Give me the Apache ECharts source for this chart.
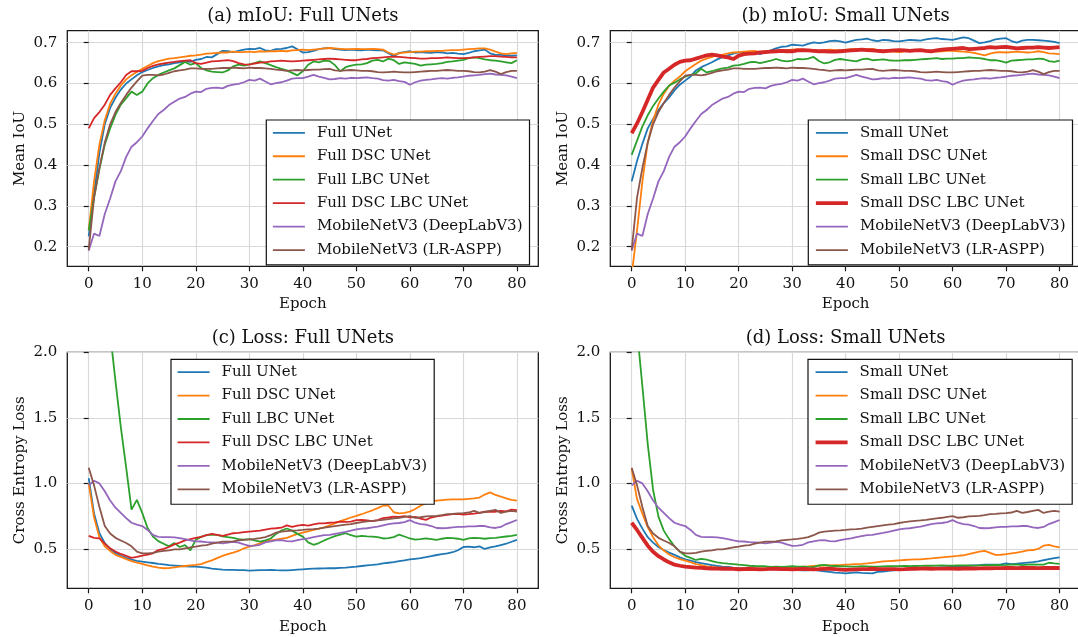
<!DOCTYPE html>
<html>
<head>
<meta charset="utf-8">
<script src="https://cdn.jsdelivr.net/npm/echarts@6/dist/echarts.min.js"></script>
<style>html,body{margin:0;padding:0;background:#fff}#c{width:1078px;height:637px}</style>
</head>
<body>
<div id="c"></div>
<script>
const epochs = [0,1,2,3,4,5,6,7,8,9,10,11,12,13,14,15,16,17,18,19,20,21,22,23,24,25,26,27,28,29,30,31,32,33,34,35,36,37,38,39,40,41,42,43,44,45,46,47,48,49,50,51,52,53,54,55,56,57,58,59,60,61,62,63,64,65,66,67,68,69,70,71,72,73,74,75,76,77,78,79,80];
const xTicks = [0,10,20,30,40,50,60,70,80];
const miouTicks = [0.2,0.3,0.4,0.5,0.6,0.7];
const lossTicks = [0.5,1.0,1.5,2.0];

const titles = ['(a) mIoU: Full UNets','(b) mIoU: Small UNets','(c) Loss: Full UNets','(d) Loss: Small UNets'];
const fullNames = ['Full UNet','Full DSC UNet','Full LBC UNet','Full DSC LBC UNet','MobileNetV3 (DeepLabV3)','MobileNetV3 (LR-ASPP)'];
const smallNames = ['Small UNet','Small DSC UNet','Small LBC UNet','Small DSC LBC UNet','MobileNetV3 (DeepLabV3)','MobileNetV3 (LR-ASPP)'];

// (a) mIoU full
const miouFullUNet = [.225,.33,.43,.50,.54,.565,.585,.60,.61,.62,.628,.633,.638,.642,.645,.647,.650,.652,.655,.653,.658,.660,.665,.664,.672,.680,.679,.677,.680,.683,.685,.684,.687,.681,.680,.684,.685,.687,.691,.684,.676,.677,.680,.684,.686,.687,.684,.683,.682,.683,.682,.681,.683,.682,.681,.681,.674,.667,.675,.677,.679,.676,.677,.676,.675,.677,.676,.674,.675,.673,.672,.675,.679,.681,.683,.674,.670,.670,.669,.668,.669];
const miouFullDSC = [.24,.36,.45,.51,.55,.575,.595,.61,.62,.628,.636,.643,.650,.655,.658,.661,.662,.664,.666,.668,.669,.671,.673,.674,.675,.676,.676,.678,.677,.677,.678,.677,.679,.678,.679,.679,.680,.679,.681,.682,.683,.682,.683,.684,.686,.687,.686,.685,.684,.684,.685,.684,.684,.685,.684,.683,.676,.671,.674,.676,.677,.678,.678,.679,.679,.680,.680,.681,.682,.682,.683,.684,.685,.686,.686,.683,.678,.674,.672,.674,.675];
const miouFullLBC = [.24,.32,.39,.45,.49,.523,.548,.564,.58,.572,.58,.60,.613,.621,.627,.632,.637,.645,.653,.646,.650,.638,.632,.629,.628,.627,.632,.642,.646,.644,.647,.650,.654,.650,.645,.640,.636,.632,.626,.620,.630,.646,.654,.652,.656,.655,.645,.630,.640,.644,.646,.647,.650,.656,.658,.654,.661,.657,.648,.652,.650,.648,.644,.646,.647,.648,.650,.653,.654,.656,.658,.662,.664,.662,.659,.657,.656,.654,.652,.650,.657];
const miouFullDSCLBC = [.49,.515,.53,.548,.572,.588,.603,.621,.630,.630,.631,.638,.643,.647,.649,.651,.653,.655,.656,.657,.650,.648,.651,.654,.655,.656,.657,.655,.650,.647,.646,.649,.651,.652,.654,.655,.656,.655,.654,.655,.656,.657,.658,.659,.660,.661,.660,.659,.658,.657,.657,.659,.660,.662,.663,.664,.665,.666,.665,.664,.663,.662,.661,.661,.662,.662,.663,.664,.663,.662,.662,.663,.664,.665,.666,.667,.667,.666,.665,.664,.664];
// shared MobileNet mIoU
const miouDeepLab = [.19,.232,.226,.28,.318,.36,.385,.42,.445,.456,.47,.49,.508,.525,.535,.547,.555,.563,.567,.575,.58,.579,.587,.589,.590,.588,.594,.597,.599,.603,.609,.607,.612,.605,.598,.601,.603,.607,.612,.613,.613,.617,.621,.617,.614,.610,.611,.613,.612,.614,.613,.614,.615,.613,.612,.608,.607,.609,.606,.604,.597,.603,.607,.609,.610,.612,.613,.612,.614,.615,.617,.619,.620,.621,.623,.624,.622,.621,.620,.617,.613];
const miouLRASPP = [.192,.32,.393,.455,.50,.53,.552,.572,.59,.605,.619,.621,.621,.620,.622,.626,.630,.632,.634,.637,.637,.636,.636,.636,.637,.638,.638,.639,.638,.637,.639,.638,.638,.637,.636,.634,.633,.631,.632,.633,.632,.633,.634,.634,.635,.636,.632,.631,.632,.633,.632,.631,.631,.630,.628,.627,.628,.629,.628,.627,.627,.628,.629,.630,.631,.631,.632,.633,.632,.631,.631,.630,.628,.627,.629,.633,.629,.623,.628,.631,.631];
// (b) mIoU small
const miouSmallUNet = [.36,.41,.452,.49,.513,.535,.552,.566,.583,.597,.607,.617,.632,.640,.646,.652,.659,.665,.669,.673,.676,.677,.677,.676,.672,.678,.681,.686,.690,.691,.695,.694,.693,.697,.701,.699,.701,.704,.705,.703,.700,.704,.707,.708,.710,.706,.704,.707,.706,.704,.703,.705,.707,.706,.705,.708,.710,.711,.709,.708,.707,.710,.713,.711,.705,.699,.701,.704,.708,.710,.711,.704,.700,.705,.707,.707,.706,.705,.704,.702,.699];
const miouSmallDSC = [.13,.24,.36,.455,.51,.548,.575,.594,.607,.617,.63,.639,.648,.656,.661,.665,.669,.671,.674,.676,.677,.678,.679,.680,.677,.679,.680,.678,.680,.682,.683,.684,.683,.682,.681,.680,.682,.683,.682,.681,.683,.684,.685,.682,.684,.685,.682,.680,.679,.678,.677,.679,.680,.680,.681,.682,.680,.678,.679,.680,.680,.679,.678,.677,.675,.672,.669,.673,.676,.677,.676,.677,.678,.677,.676,.677,.679,.677,.674,.673,.672];
const miouSmallLBC = [.425,.46,.495,.522,.545,.563,.58,.595,.602,.61,.617,.621,.625,.636,.627,.630,.634,.637,.639,.644,.645,.648,.652,.653,.650,.653,.656,.660,.656,.654,.656,.660,.659,.661,.665,.655,.649,.652,.658,.660,.658,.656,.654,.659,.661,.657,.658,.659,.657,.656,.656,.657,.657,.658,.659,.660,.661,.662,.660,.661,.661,.662,.662,.664,.663,.662,.660,.657,.657,.655,.651,.656,.657,.658,.659,.659,.661,.660,.655,.653,.656];
const miouSmallDSCLBC = [.478,.502,.53,.56,.59,.609,.627,.636,.646,.653,.656,.657,.661,.665,.669,.671,.669,.666,.664,.660,.668,.672,.673,.674,.676,.677,.678,.679,.680,.679,.679,.681,.682,.681,.680,.679,.679,.678,.678,.679,.680,.681,.682,.683,.682,.681,.680,.679,.680,.681,.682,.681,.680,.681,.682,.680,.679,.681,.683,.684,.685,.686,.687,.684,.685,.686,.687,.689,.688,.689,.690,.688,.686,.687,.688,.688,.689,.688,.687,.688,.689];

// (c) loss full
const lossFullUNet = [1.04,.77,.62,.545,.50,.47,.448,.432,.418,.41,.403,.398,.393,.387,.382,.376,.373,.370,.367,.366,.365,.362,.358,.350,.346,.342,.340,.341,.339,.338,.335,.337,.339,.338,.340,.338,.337,.336,.339,.342,.345,.348,.350,.351,.352,.353,.353,.356,.358,.362,.365,.370,.375,.378,.383,.39,.395,.400,.407,.413,.42,.425,.430,.437,.445,.454,.460,.466,.475,.490,.515,.518,.513,.520,.500,.512,.520,.530,.540,.555,.569];
const lossFullDSC = [1.0,.74,.59,.52,.485,.455,.44,.423,.407,.395,.386,.375,.365,.357,.353,.354,.360,.365,.370,.375,.378,.385,.400,.413,.430,.447,.460,.472,.485,.505,.518,.530,.543,.556,.565,.572,.578,.585,.600,.615,.625,.635,.645,.655,.665,.680,.695,.712,.725,.740,.752,.765,.780,.795,.812,.830,.830,.780,.772,.776,.785,.805,.830,.850,.862,.868,.872,.876,.878,.878,.878,.882,.886,.892,.915,.932,.912,.900,.886,.875,.869];
const lossFullLBC = [4.0,3.4,2.9,2.5,2.15,1.78,1.43,1.12,.80,.874,.775,.66,.595,.56,.54,.52,.545,.515,.53,.49,.57,.592,.605,.610,.607,.596,.590,.585,.575,.572,.575,.565,.556,.565,.580,.615,.640,.656,.640,.615,.594,.550,.532,.545,.565,.582,.598,.610,.620,.605,.594,.600,.596,.594,.590,.580,.582,.590,.610,.595,.580,.572,.575,.580,.575,.570,.578,.585,.582,.578,.570,.580,.585,.582,.578,.582,.585,.590,.595,.600,.607];
const lossFullDSCLBC = [.60,.585,.58,.54,.505,.48,.462,.447,.432,.44,.45,.457,.467,.492,.50,.515,.535,.548,.565,.575,.585,.592,.605,.615,.608,.600,.610,.620,.622,.628,.632,.636,.640,.648,.655,.658,.662,.680,.668,.678,.683,.678,.688,.695,.695,.700,.703,.708,.706,.708,.720,.722,.718,.712,.720,.735,.740,.747,.745,.750,.740,.745,.732,.722,.740,.748,.755,.760,.765,.768,.763,.766,.770,.775,.784,.785,.784,.790,.786,.800,.797];
// shared MobileNet loss
const lossDeepLab = [.985,1.02,1.0,.94,.87,.815,.775,.735,.70,.685,.675,.645,.607,.592,.590,.590,.588,.582,.575,.565,.558,.557,.552,.550,.548,.543,.548,.555,.548,.535,.523,.525,.532,.550,.558,.565,.568,.560,.558,.568,.575,.580,.590,.598,.605,.608,.615,.622,.630,.640,.650,.655,.658,.665,.670,.680,.690,.695,.698,.705,.72,.700,.690,.685,.675,.660,.658,.660,.664,.668,.668,.672,.672,.675,.675,.664,.660,.668,.690,.705,.721];
const lossLRASPP = [1.12,.985,.82,.675,.618,.585,.565,.545,.52,.48,.467,.467,.47,.48,.485,.49,.497,.497,.505,.512,.518,.525,.530,.540,.548,.556,.556,.558,.566,.570,.573,.577,.582,.590,.605,.625,.632,.636,.640,.642,.645,.650,.652,.655,.662,.668,.674,.680,.685,.690,.698,.705,.710,.715,.718,.722,.728,.733,.738,.745,.750,.738,.742,.748,.750,.752,.758,.765,.768,.772,.774,.778,.790,.775,.782,.790,.798,.775,.785,.790,.785];
// (d) loss small
const lossSmallUNet = [.83,.73,.655,.59,.548,.515,.492,.472,.455,.436,.421,.412,.400,.392,.385,.376,.370,.366,.363,.358,.355,.353,.351,.350,.350,.348,.345,.346,.345,.343,.340,.338,.336,.337,.340,.335,.330,.325,.320,.317,.314,.318,.322,.318,.316,.314,.325,.328,.333,.336,.340,.342,.345,.347,.350,.353,.355,.357,.360,.362,.365,.367,.370,.372,.375,.377,.380,.381,.380,.383,.390,.385,.388,.392,.396,.400,.405,.414,.422,.430,.436];
const lossSmallDSC = [1.11,.88,.77,.665,.59,.528,.488,.458,.437,.422,.411,.399,.385,.376,.368,.363,.360,.358,.356,.353,.352,.352,.351,.351,.351,.352,.353,.355,.357,.360,.362,.364,.365,.367,.370,.372,.374,.375,.376,.377,.380,.382,.385,.387,.390,.394,.400,.405,.408,.410,.413,.416,.418,.420,.421,.425,.428,.432,.436,.440,.443,.447,.452,.460,.470,.480,.485,.470,.455,.456,.460,.466,.472,.480,.490,.492,.500,.525,.532,.520,.513];
const lossSmallLBC = [3.0,2.17,1.74,1.30,.95,.747,.64,.575,.52,.48,.447,.432,.416,.425,.418,.408,.398,.392,.388,.385,.380,.376,.372,.370,.369,.368,.364,.365,.364,.366,.368,.366,.365,.363,.362,.374,.378,.372,.370,.368,.367,.365,.366,.368,.367,.366,.365,.367,.368,.368,.369,.371,.369,.370,.371,.372,.372,.373,.374,.373,.372,.374,.375,.374,.373,.375,.376,.377,.378,.377,.378,.380,.382,.377,.380,.383,.381,.380,.395,.390,.386];
const lossSmallDSCLBC = [.70,.645,.585,.525,.478,.445,.42,.398,.38,.372,.365,.362,.358,.356,.353,.351,.350,.349,.350,.348,.345,.347,.349,.347,.345,.346,.348,.349,.347,.346,.345,.347,.348,.346,.345,.346,.348,.349,.346,.343,.340,.342,.344,.346,.347,.349,.347,.346,.347,.346,.345,.346,.348,.349,.350,.351,.349,.350,.350,.351,.350,.349,.351,.352,.351,.352,.353,.353,.354,.354,.355,.356,.354,.355,.356,.355,.354,.355,.356,.355,.355];

const colors = ['#1f77b4','#ff7f0e','#2ca02c','#d62728','#9467bd','#8c564b'];
const FONT = '"DejaVu Serif", serif';
const THIN = 1.8, THICK = 3.8;

const panels = [
  {names: fullNames, data: [miouFullUNet, miouFullDSC, miouFullLBC, miouFullDSCLBC, miouDeepLab, miouLRASPP], thick: -1},
  {names: smallNames, data: [miouSmallUNet, miouSmallDSC, miouSmallLBC, miouSmallDSCLBC, miouDeepLab, miouLRASPP], thick: 3},
  {names: fullNames, data: [lossFullUNet, lossFullDSC, lossFullLBC, lossFullDSCLBC, lossDeepLab, lossLRASPP], thick: -1},
  {names: smallNames, data: [lossSmallUNet, lossSmallDSC, lossSmallLBC, lossSmallDSCLBC, lossDeepLab, lossLRASPP], thick: 3}
];

const gridBoxes = [
  {left: 67.3, top: 30.7, width: 471, height: 235.6},
  {left: 610.3, top: 30.7, width: 470.7, height: 235.6},
  {left: 67.3, top: 352.3, width: 471, height: 236},
  {left: 610.3, top: 352.3, width: 470.7, height: 236}
];
const legendPos = [
  {left: 266.3, top: 120},
  {left: 808.3, top: 120},
  {left: 171, top: 359.3},
  {left: 808, top: 359.3}
];
const titlePos = [[302.8, 16], [845.6, 16], [302.8, 338], [845.6, 338]];

const grid = gridBoxes.map(g => Object.assign({show: true, borderColor: '#1a1a1a', borderWidth: 1.3, backgroundColor: 'rgba(0,0,0,0)', outerBoundsMode: 'none', containLabel: false}, g));

const xAxis = gridBoxes.map((g, i) => ({
  type: 'value', gridIndex: i, min: -4, max: 84, minInterval: 10, maxInterval: 10,
  name: 'Epoch', nameLocation: 'middle', nameGap: i < 2 ? 30 : 31,
  nameTextStyle: {fontFamily: FONT, fontSize: 15, color: '#111'},
  axisLine: {show: false},
  axisTick: {show: true, length: 5, inside: false, customValues: xTicks, lineStyle: {color: '#1a1a1a', width: 1.2}},
  axisLabel: {show: true, margin: 10, customValues: xTicks, fontFamily: FONT, fontSize: 15, color: '#111', formatter: v => String(Math.round(v))},
  splitLine: {show: true, lineStyle: {color: '#d9d9d9', width: 1.2}}
}));

const yAxis = gridBoxes.map((g, i) => {
  const isLoss = i >= 2;
  return {
    type: 'value', gridIndex: i,
    min: isLoss ? 0.2 : 0.1518, max: isLoss ? 2.0 : 0.7294,
    minInterval: isLoss ? 0.5 : 0.1, maxInterval: isLoss ? 0.5 : 0.1,
    name: isLoss ? 'Cross Entropy Loss' : 'Mean IoU', nameLocation: 'middle', nameGap: 40, nameRotate: 90,
    nameTextStyle: {fontFamily: FONT, fontSize: 15, color: '#111'},
    axisLine: {show: false},
    axisTick: {show: true, length: 5, inside: false, customValues: isLoss ? lossTicks : miouTicks, lineStyle: {color: '#1a1a1a', width: 1.2}},
    axisLabel: {show: true, margin: 10, customValues: isLoss ? lossTicks : miouTicks, fontFamily: FONT, fontSize: 15, color: '#111', formatter: v => Number(v).toFixed(1)},
    splitLine: {show: true, lineStyle: {color: '#d9d9d9', width: 1.2}}
  };
});

const series = [];
panels.forEach((p, pi) => {
  p.data.forEach((arr, si) => {
    const w = (si === p.thick) ? THICK : THIN;
    series.push({
      type: 'line', name: p.names[si], xAxisIndex: pi, yAxisIndex: pi,
      data: arr.map((v, k) => [epochs[k], v]),
      symbol: 'none', showSymbol: false, clip: true, smooth: false,
      lineStyle: {color: colors[si], width: w},
      itemStyle: {color: colors[si]},
      emphasis: {disabled: true},
      z: 2 + si * 0.01
    });
  });
});

const legend = panels.map((p, i) => ({
  show: true, orient: 'vertical',
  left: legendPos[i].left, top: legendPos[i].top,
  data: p.names.map((n, si) => ({name: n, lineStyle: {width: si === p.thick ? THICK : THIN, color: colors[si]}})),
  itemWidth: 32, itemHeight: 14, itemGap: 8.45,
  padding: [5.3, 7, 7.4, 5.7],
  backgroundColor: '#ffffff', borderColor: '#111', borderWidth: 1.2, borderRadius: 0,
  itemStyle: {opacity: 0},
  lineStyle: {width: THIN},
  textStyle: {fontFamily: FONT, fontSize: 15, color: '#111', lineHeight: 14, padding: [0, 0, 0, 7]},
  selectedMode: false,
  z: 10
}));

const graphic = titles.map((t, i) => ({
  type: 'text', x: titlePos[i][0], y: titlePos[i][1], z: 20,
  style: {text: t, font: '18px ' + FONT, fill: '#111', textAlign: 'center', textVerticalAlign: 'middle'}
}));

const chart = echarts.init(document.getElementById('c'), null, {renderer: 'canvas', width: 1078, height: 637});
chart.setOption({
  animation: false,
  backgroundColor: '#ffffff',
  grid, xAxis, yAxis, series, legend, graphic,
  tooltip: {show: false}
});
</script>
</body>
</html>
